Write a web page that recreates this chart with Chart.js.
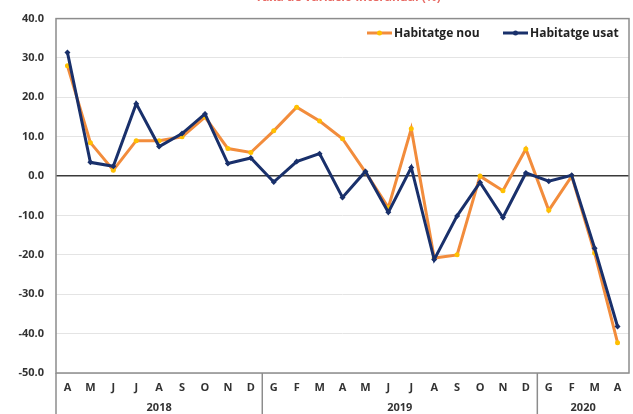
<!DOCTYPE html>
<html>
<head>
<meta charset="utf-8">
<script src="https://cdn.jsdelivr.net/npm/chart.js@4"></script>
<style>
  html, body { margin: 0; padding: 0; background: #fff; }
  #wrap { width: 633px; height: 414px; }
</style>
</head>
<body>
<div id="wrap"><canvas id="chart" width="633" height="414"></canvas></div>
<script>
// months Apr 2018 - Apr 2020 (Catalan initials)
const months = ['A','M','J','J','A','S','O','N','D',
  'G','F','M','A','M','J','J','A','S','O','N','D',
  'G','F','M','A'];
const years = ['2018', '2019', '2020'];
const yearStarts = [0, 9, 21];

const habitatgeNou = [28.0, 8.5, 1.5, 9.0, 9.0, 10.0, 15.0, 7.0, 6.0,
  11.5, 17.5, 14.0, 9.5, 1.0, -8.0, 12.0, -20.8, -20.0, 0.0, -3.7, 6.9,
  -8.7, 0.0, -19.5, -42.3];
const habitatgeUsat = [31.4, 3.5, 2.5, 18.4, 7.5, 10.8, 15.8, 3.2, 4.6,
  -1.5, 3.7, 5.7, -5.4, 1.2, -9.2, 2.2, -21.2, -10.1, -1.6, -10.5, 0.8,
  -1.3, 0.2, -18.3, -38.2];

const yTicks = { min: -50, max: 40, step: 10 };

const orange = '#f28c3c';
const navy = '#19306b';
const boldFont = 'bold 11px "Open Sans"';

const title = 'Taxa de variació interanual (%)';

let frame = {
  id: 'frame',
  beforeDatasetsDraw(chart) {
    const { ctx, chartArea: a } = chart;
    ctx.save();
    ctx.strokeStyle = '#8c8c8c';
    ctx.lineWidth = 1.5;
    ctx.strokeRect(a.left, a.top, a.right - a.left, a.bottom - a.top);
    ctx.restore();
  },
  afterDraw(chart) {
    const { ctx, chartArea: a } = chart;
    const x = chart.scales.x;
    ctx.save();
    // title, cut off at top like the original
    ctx.fillStyle = '#e86a64';
    ctx.font = 'bold 12px "Open Sans"';
    ctx.textAlign = 'center';
    ctx.textBaseline = 'alphabetic';
    ctx.fillText(title, 348, 0.5);

    // year separators + labels
    ctx.strokeStyle = '#8c8c8c';
    ctx.lineWidth = 1.5;
    const edges = yearStarts.map(i => i === 0 ? a.left
      : (x.getPixelForValue(i - 1) + x.getPixelForValue(i)) / 2);
    edges.push(a.right);
    edges.slice(0, -1).forEach(e => {
      ctx.beginPath();
      ctx.moveTo(e, a.bottom);
      ctx.lineTo(e, chart.height);
      ctx.stroke();
    });
    ctx.fillStyle = '#333';
    ctx.font = boldFont;
    ctx.textBaseline = 'middle';
    years.forEach((y, i) => {
      ctx.fillText(y, (edges[i] + edges[i + 1]) / 2, 408);
    });

    // legend inside plot area
    ctx.textAlign = 'left';
    ctx.font = 'bold 12px "Open Sans"';
    const items = [
      { ds: chart.data.datasets[0], x: 367 },
      { ds: chart.data.datasets[1], x: 503 }
    ];
    items.forEach(it => {
      const ly = 33;
      ctx.strokeStyle = it.ds.borderColor;
      ctx.lineWidth = 3;
      ctx.beginPath();
      ctx.moveTo(it.x, ly);
      ctx.lineTo(it.x + 25, ly);
      ctx.stroke();
      ctx.fillStyle = it.ds.pointBackgroundColor;
      ctx.beginPath();
      ctx.arc(it.x + 12.5, ly, 2.5, 0, Math.PI * 2);
      ctx.fill();
      ctx.fillStyle = '#222';
      ctx.fillText(it.ds.label, it.x + 27, ly + 0.5);
    });
    ctx.restore();
  }
};

new Chart(document.getElementById('chart'), {
  type: 'line',
  data: {
    labels: months,
    datasets: [
      {
        label: 'Habitatge nou',
        data: habitatgeNou,
        borderColor: orange,
        backgroundColor: orange,
        pointBackgroundColor: '#ffc000',
        pointBorderWidth: 0,
        pointRadius: 2.5,
        borderWidth: 3,
        tension: 0,
        order: 1
      },
      {
        label: 'Habitatge usat',
        data: habitatgeUsat,
        borderColor: navy,
        backgroundColor: navy,
        pointBackgroundColor: navy,
        pointBorderWidth: 0,
        pointStyle: 'rectRot',
        pointRadius: 3,
        borderWidth: 3,
        tension: 0,
        order: 0
      }
    ]
  },
  options: {
    responsive: false,
    animation: false,
    layout: { padding: { top: 13, right: 1, left: 0, bottom: 0 } },
    plugins: {
      legend: { display: false },
      tooltip: { enabled: false }
    },
    scales: {
      x: {
        offset: true,
        grid: { display: false, drawTicks: false },
        border: { display: false },
        ticks: {
          autoSkip: false,
          maxRotation: 0,
          padding: 8,
          color: '#333',
          font: { family: 'Open Sans', size: 11, weight: 'bold' }
        },
        afterFit(scale) { scale.height = 41; }
      },
      y: {
        min: yTicks.min,
        max: yTicks.max,
        grid: {
          drawTicks: false,
          color: c => c.tick && c.tick.value === 0 ? '#3a3a3a' : '#e4e4e4',
          lineWidth: c => c.tick && c.tick.value === 0 ? 1.5 : 1
        },
        border: { display: false },
        ticks: {
          stepSize: yTicks.step,
          padding: 12,
          color: '#333',
          font: { family: 'Open Sans', size: 11, weight: 'bold' },
          callback: v => v.toFixed(1)
        },
        afterFit(scale) { scale.width = 56; }
      }
    }
  },
  plugins: [frame]
});
</script>
</body>
</html>
